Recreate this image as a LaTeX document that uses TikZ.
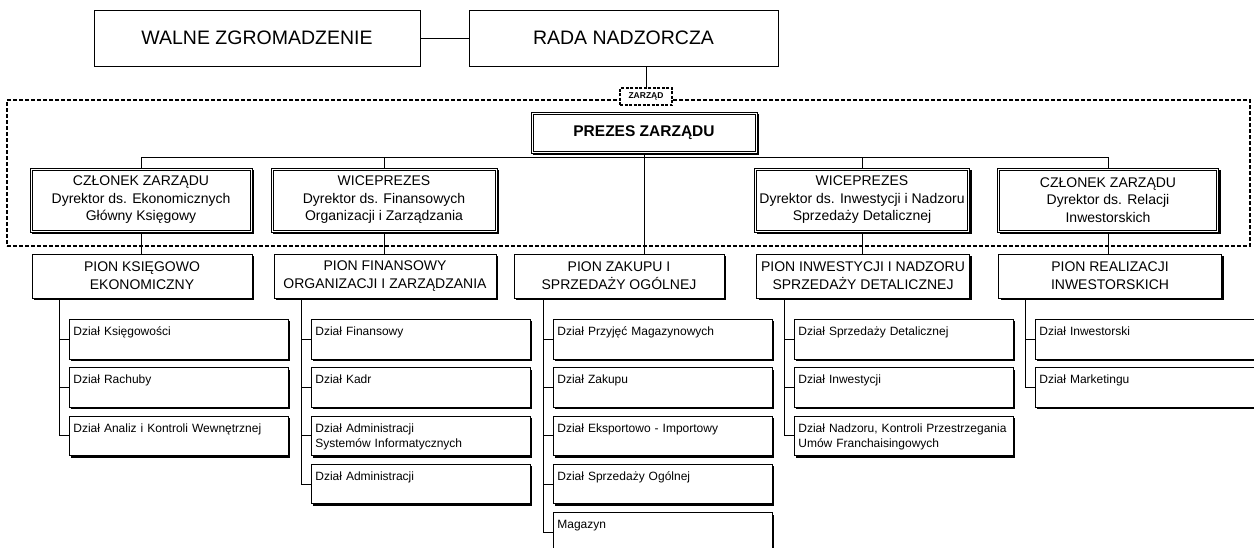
\documentclass[tikz,border=0pt]{standalone}
\usepackage{fontspec}
\setmainfont{Liberation Sans}
\usetikzlibrary{positioning,shadows}

\begin{document}
\begin{tikzpicture}[x=1pt,y=-1pt,node distance=8pt,line width=0.9pt,
 box/.style={draw,fill=white,line width=0.8pt,align=center,inner sep=0pt},
 cien/.style={drop shadow={shadow xshift=#1,shadow yshift=-#1,fill=black,opacity=1}},
 cien/.default=2pt,
 topbox/.style={box,minimum height=56pt,font=\fontsize{19.5}{23}\selectfont},
 member/.style={box,cien=2.2pt,minimum height=64pt,font=\fontsize{14}{17.5}\selectfont},
 prezesbox/.style={member,minimum width=226pt,minimum height=41pt,
 font=\fontsize{15.5}{18}\selectfont\bfseries},
 inner/.style={draw,line width=0.8pt},
 pion/.style={box,cien,minimum height=44pt,font=\fontsize{14}{18}\selectfont},
 dzial/.style={box,cien,align=left,text width=211pt,inner xsep=4pt,inner ysep=2pt,
 text height=14pt,text depth=21.5pt,font=\fontsize{12}{15}\selectfont},
 ramka/.style={draw,line width=1.2pt,dash pattern=on 4pt off 2pt,
 minimum width=1243pt,minimum height=146pt},
 zlabel/.style={draw,fill=white,line width=1.5pt,dash pattern=on 3pt off 1.5pt,
 minimum width=52pt,minimum height=17pt,inner sep=0pt,font=\fontsize{8.5}{10}\selectfont\bfseries}]
\useasboundingbox (0,0) rectangle (1254,547);
\node[topbox,minimum width=326pt] (wz) at (257,38) {WALNE ZGROMADZENIE};
\node[topbox,minimum width=309pt] (rn) at (623.5,38) {RADA NADZORCZA};
\node[ramka] (zarzady) at (628.5,173) {};
\node[zlabel] (zarzad) at (646,96.5) {ZARZĄD};
\node[prezesbox] (prezes) at (644,132.5) {PREZES ZARZĄDU};
\node[member,minimum width=222pt] (czl1) at (141,200) {CZŁONEK ZARZĄDU\\Dyrektor ds. Ekonomicznych\\Główny Księgowy};
\node[member,minimum width=226pt] (wice1) at (384,200) {WICEPREZES\\Dyrektor ds. Finansowych\\Organizacji i Zarządzania};
\node[member,minimum width=215pt] (wice2) at (862,200) {WICEPREZES\\Dyrektor ds. Inwestycji i Nadzoru\\Sprzedaży Detalicznej};
\node[member,minimum width=221pt] (czl2) at (1108,200) {CZŁONEK ZARZĄDU\\Dyrektor ds. Relacji\\Inwestorskich};
\draw[inner] ([shift={(2.3pt,-2.3pt)}]prezes.north west) rectangle ([shift={(-2.3pt,2.3pt)}]prezes.south east);
\draw[inner] ([shift={(2.3pt,-2.3pt)}]czl1.north west) rectangle ([shift={(-2.3pt,2.3pt)}]czl1.south east);
\draw[inner] ([shift={(2.3pt,-2.3pt)}]wice1.north west) rectangle ([shift={(-2.3pt,2.3pt)}]wice1.south east);
\draw[inner] ([shift={(2.3pt,-2.3pt)}]wice2.north west) rectangle ([shift={(-2.3pt,2.3pt)}]wice2.south east);
\draw[inner] ([shift={(2.3pt,-2.3pt)}]czl2.north west) rectangle ([shift={(-2.3pt,2.3pt)}]czl2.south east);
\node[pion,minimum width=220pt] (pion1) at (142,276) {PION KSIĘGOWO\\EKONOMICZNY};
\node[pion,minimum width=222pt] (pion2) at (385,276) {PION FINANSOWY\\ORGANIZACJI I ZARZĄDZANIA};
\node[pion,minimum width=210pt] (pion3) at (619,276) {PION ZAKUPU I\\SPRZEDAŻY OGÓLNEJ};
\node[pion,minimum width=213pt] (pion4) at (863,276) {PION INWESTYCJI I NADZORU\\SPRZEDAŻY DETALICZNEJ};
\node[pion,minimum width=223pt] (pion5) at (1110,276) {PION REALIZACJI\\INWESTORSKICH};
\node[dzial,anchor=north west] (d11) at (69,319) {Dział Księgowości};
\node[dzial,below=of d11] (d12) {Dział Rachuby};
\node[dzial,below=of d12] (d13) {Dział Analiz i Kontroli Wewnętrznej};
\node[dzial,anchor=north west] (d21) at (311,319) {Dział Finansowy};
\node[dzial,below=of d21] (d22) {Dział Kadr};
\node[dzial,below=of d22] (d23) {Dział Administracji\\Systemów Informatycznych};
\node[dzial,below=of d23] (d24) {Dział Administracji};
\node[dzial,anchor=north west] (d31) at (553,319) {Dział Przyjęć Magazynowych};
\node[dzial,below=of d31] (d32) {Dział Zakupu};
\node[dzial,below=of d32] (d33) {Dział Eksportowo - Importowy};
\node[dzial,below=of d33] (d34) {Dział Sprzedaży Ogólnej};
\node[dzial,below=of d34] (d35) {Magazyn};
\node[dzial,anchor=north west] (d41) at (794,319) {Dział Sprzedaży Detalicznej};
\node[dzial,below=of d41] (d42) {Dział Inwestycji};
\node[dzial,below=of d42] (d43) {Dział Nadzoru, Kontroli Przestrzegania\\Umów Franchaisingowych};
\node[dzial,anchor=north west] (d51) at (1035,319) {Dział Inwestorski};
\node[dzial,below=of d51] (d52) {Dział Marketingu};
\draw (wz) -- (rn);
\draw (zarzad.north) -- (zarzad.north |- rn.south);
\draw (czl1.north) -- ++(0,-10) -| (czl2.north);
\draw (wice1.north) -- ++(0,-10); \draw (wice2.north) -- ++(0,-10);
\draw (prezes.south) -- (prezes.south |- pion3.north);
\draw (czl1.south) -- (czl1.south |- pion1.north);
\draw (wice1.south) -- (wice1.south |- pion2.north);
\draw (wice2.south) -- (wice2.south |- pion4.north);
\draw (czl2.south) -- (czl2.south |- pion5.north);
\draw ([xshift=-10pt]d11.west |- pion1.south) |- (d13.west);
\draw (d11.west) -- ++(-10,0); \draw (d12.west) -- ++(-10,0);
\draw ([xshift=-10pt]d21.west |- pion2.south) |- (d24.west);
\draw (d21.west) -- ++(-10,0); \draw (d22.west) -- ++(-10,0); \draw (d23.west) -- ++(-10,0);
\draw ([xshift=-10pt]d31.west |- pion3.south) |- (d35.west);
\draw (d31.west) -- ++(-10,0); \draw (d32.west) -- ++(-10,0);
\draw (d33.west) -- ++(-10,0); \draw (d34.west) -- ++(-10,0);
\draw ([xshift=-10pt]d41.west |- pion4.south) |- (d43.west);
\draw (d41.west) -- ++(-10,0); \draw (d42.west) -- ++(-10,0);
\draw ([xshift=-10pt]d51.west |- pion5.south) |- (d52.west);
\draw (d51.west) -- ++(-10,0);
\end{tikzpicture}
\end{document}
